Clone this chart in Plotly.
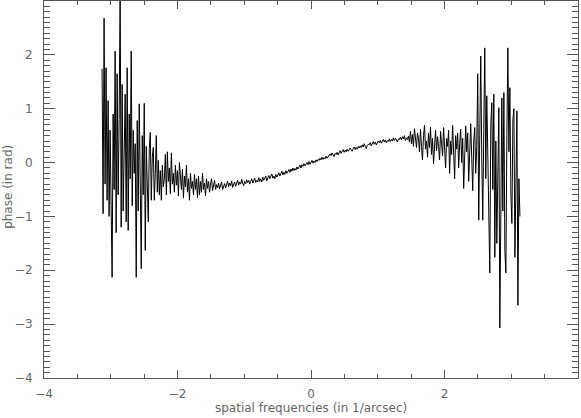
import numpy as np
import plotly.graph_objects as go

# phase, left to right, roughly one value per screen pixel
phase_left_edge = [
    1.74, -0.95, 2.68, -0.4, 1.76, -0.7, 1.15, -1.0, 0.6, -1.4,
    -2.13, 0.9, -0.5, 2.07, -1.3, 1.65, -0.6, 0.8, 3.3, -1.2,
    1.45, -0.9, 0.4, 1.27, -1.1, 1.76, -1.26, 0.9, -0.3, 2.07,
    -0.8, 0.6, -0.2, 0.35, -2.13, 0.78, -0.9, 1.09, -0.4, -1.97,
    0.5, -0.6, 1.1, -1.63, 0.3, -0.8, -1.1, 0.26, 0.56, -0.7,
    0.1, 0.28, -0.7, -0.2, 0.5, -0.55,
]
phase_left_mid = [
    0.04, -0.6, -0.15, -0.7, -0.05, -0.45, -0.3, 0.15, -0.6, 0.2,
    -0.35, -0.1, -0.58, 0.18, -0.4, -0.2, -0.55, -0.05, -0.42, -0.15,
    -0.62, 0.0, -0.38, -0.5, -0.12, -0.66, -0.25, -0.45, -0.05, -0.55,
    -0.3, -0.7, -0.2, -0.48, -0.35, -0.6, -0.22, -0.5, -0.3, -0.65,
]
phase_center = [
    -0.25, -0.6, -0.35, -0.55, -0.2, -0.5, -0.38, -0.62, -0.3, -0.48,
    -0.35, -0.55, -0.4, -0.3, -0.52, -0.44, -0.33, -0.5, -0.41, -0.47,
    -0.38, -0.49, -0.42, -0.36, -0.5, -0.44, -0.39, -0.47, -0.41, -0.35,
    -0.45, -0.38, -0.43, -0.34, -0.46, -0.4, -0.36, -0.44, -0.39, -0.33,
    -0.42, -0.36, -0.4, -0.31, -0.38, -0.43, -0.35, -0.39, -0.32, -0.37,
    -0.33, -0.4, -0.35, -0.3, -0.38, -0.34, -0.29, -0.37, -0.33, -0.36,
    -0.28, -0.35, -0.3, -0.36, -0.27, -0.33, -0.29, -0.25, -0.34, -0.3,
    -0.24, -0.3, -0.26, -0.21, -0.29, -0.25, -0.3, -0.22, -0.27, -0.23,
    -0.19, -0.25, -0.2, -0.16, -0.23, -0.18, -0.22, -0.15, -0.2, -0.17,
    -0.13, -0.18, -0.12, -0.16, -0.1, -0.15, -0.11, -0.14, -0.08, -0.12,
    -0.09, -0.05, -0.1, -0.04, -0.07, -0.02, -0.06, -0.03, 0.0, -0.04,
    0.02, -0.03, 0.01, 0.04, -0.01, 0.03, 0.0, 0.05, 0.02, 0.06,
    0.04, 0.08, 0.05, 0.1, 0.06, 0.09, 0.07, 0.12, 0.08, 0.11,
    0.12, 0.16, 0.13, 0.18, 0.14, 0.11, 0.17, 0.15, 0.19, 0.14,
    0.18, 0.22, 0.17, 0.21, 0.24, 0.19, 0.23, 0.2, 0.25, 0.21,
    0.23, 0.27, 0.24, 0.21, 0.26, 0.29, 0.24, 0.28, 0.25, 0.3,
    0.27, 0.31, 0.28, 0.33, 0.29, 0.35, 0.3, 0.26, 0.32, 0.34,
    0.33, 0.37, 0.31, 0.36, 0.39, 0.34, 0.38, 0.33, 0.36, 0.4,
    0.37, 0.41, 0.36, 0.4, 0.43, 0.38, 0.42, 0.37, 0.41, 0.39,
    0.44, 0.39, 0.43, 0.4, 0.46, 0.41, 0.45, 0.42, 0.38, 0.44,
    0.43, 0.47, 0.42, 0.48, 0.44, 0.5, 0.41, 0.46, 0.43, 0.49,
    0.38, 0.58, 0.35, 0.52, 0.3, 0.63, 0.4, 0.28, 0.55,
]
phase_right_mid = [
    0.45, 0.2, 0.62, 0.3, 0.05, 0.5, 0.69, 0.25, 0.4, 0.1,
    0.55, 0.28, 0.66, 0.15, 0.45, -0.02, 0.35, 0.6, 0.22, 0.48,
    0.3, 0.05, 0.58, 0.38, 0.12, 0.65, 0.25, -0.1, 0.45, 0.3,
    0.6, -0.2, 0.4, 0.15, 0.69, 0.1, -0.3, 0.5, 0.25, 0.55,
    -0.1, 0.35, 0.62, 0.0, 0.45, -0.48, 0.3, 0.68,
]
phase_right_edge = [
    0.2, 0.55, -0.35, 0.45, 0.72, 0.1, -0.52, 0.4, 0.65, -0.2,
    0.3, 1.65, -1.07, 0.5, 1.98, 0.1, -1.07, 0.6, 2.13, -0.3,
    1.24, 0.2, -0.8, -2.05, 0.7, 1.11, -0.5, 1.27, -1.76, 0.4,
    -1.5, 0.3, 1.02, -3.07, -0.4, 1.2, -0.9, 1.3, -1.63, -2.05,
    0.5, 2.13, 0.2, 1.39, -0.6, -1.13, 0.8, 1.0, -1.76, 0.3,
    0.96, -2.65, -0.3, -1.0,
]

freq_min, freq_max = -3.13, 3.13

phase = (phase_left_edge + phase_left_mid + phase_center
         + phase_right_mid + phase_right_edge)
freq = np.linspace(freq_min, freq_max, len(phase))

axis_col = '#555555'
text_font = dict(family='DejaVu Sans', size=12, color='#666666')

fig = go.Figure()
fig.add_trace(go.Scatter(
    x=freq, y=phase, mode='lines',
    line=dict(color='black', width=1),
    showlegend=False, hoverinfo='skip'))

fig.update_xaxes(
    range=[-4, 4], dtick=2, tick0=-4, automargin=False,
    ticks='inside', ticklen=8, tickwidth=1, tickcolor=axis_col,
    minor=dict(dtick=0.5, tick0=-4, ticks='inside', ticklen=4, tickwidth=1,
               tickcolor=axis_col, showgrid=False),
    showline=True, linecolor=axis_col, linewidth=1, mirror='allticks',
    showgrid=False, zeroline=False, ticklabelstandoff=5,
    tickfont=text_font, layer='above traces')
fig.update_yaxes(
    range=[-4, 3], dtick=1, tick0=-4, automargin=False,
    ticks='inside', ticklen=11, tickwidth=1, tickcolor=axis_col,
    minor=dict(dtick=0.1, tick0=-4, ticks='inside', ticklen=6, tickwidth=1,
               tickcolor=axis_col, showgrid=False),
    showline=True, linecolor=axis_col, linewidth=1, mirror='allticks',
    showgrid=False, zeroline=False, ticklabelstandoff=8,
    tickfont=text_font, layer='above traces')
fig.update_layout(
    width=581, height=418,
    margin=dict(l=44, r=3, t=1, b=40, pad=0),
    plot_bgcolor='white', paper_bgcolor='white',
    annotations=[
        dict(text='spatial frequencies (in 1/arcsec)', xref='paper', yref='paper',
             x=0.5, y=0, xanchor='center', yanchor='middle', yshift=-30,
             showarrow=False, font=text_font),
        dict(text='phase (in rad)', xref='paper', yref='paper',
             x=0, y=0.507, xanchor='center', yanchor='middle', xshift=-36,
             textangle=-90, showarrow=False, font=text_font),
    ])

# the browser adds an 8px body margin; drop it so the figure fills the window
fig.write_html('out.html', config={'displayModeBar': False},
               post_script="document.body.style.margin='0';")
